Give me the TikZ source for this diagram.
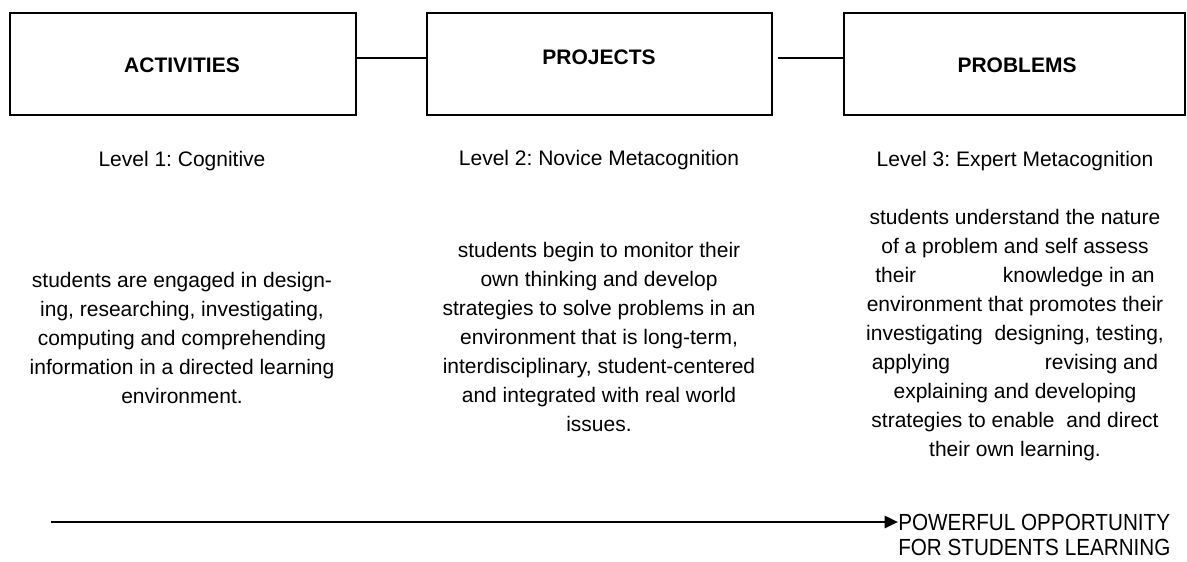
\documentclass[tikz,border=0pt]{standalone}
\usepackage{fontspec}
\setmainfont{Liberation Sans}
\usetikzlibrary{arrows.meta}
\frenchspacing

\begin{document}
\begin{tikzpicture}[x=0.75pt,y=0.75pt,yscale=-1,
    box/.style={draw, line width=0.8pt, minimum height=76.5pt, inner sep=0pt},
    title/.style={font=\bfseries\fontsize{15.75}{18}\selectfont, inner sep=0.75pt},
    level/.style={font=\fontsize{15.75}{18}\selectfont, inner sep=0.75pt},
    body/.style={font=\fontsize{15.75}{21.75}\selectfont, align=center, inner sep=0pt},
    goal/.style={font=\fontsize{17.5}{18.75}\selectfont, align=left, inner sep=0pt, xscale=0.886},
    link/.style={line width=0.8pt},
    progress/.style={line width=2pt, -{Triangle[length=10pt,width=9pt]}}]
        \path[use as bounding box] (0,0) rectangle (1187,561);

        %Shape: Rectangle [id:act]
        \node[box, minimum width=259.5pt] (act) at (183,64) {};
        %Shape: Rectangle [id:proj]
        \node[box, minimum width=258.75pt] (proj) at (599.5,64) {};
        %Shape: Rectangle [id:prob]
        \node[box, minimum width=255.75pt] (prob) at (1014.5,64) {};

        %Straight Lines [id:links]
        \coordinate (linky) at (0,58);
        \draw[link] (act.east |- linky) -- (proj.west |- linky);
        \draw[link, shorten <=3.75pt] (proj.east |- linky) -- (prob.west |- linky);

        % Text Node
        \node[title] (actname) at (182,65) {ACTIVITIES};
        % Text Node
        \node[title] (projname) at (599,57) {PROJECTS};
        % Text Node
        \node[title] (probname) at (1017,65) {PROBLEMS};

        % Text Node
        \node[level] (lvl1) at (182,161) {Level 1: Cognitive};
        % Text Node
        \node[level] (lvl2) at (599,160) {Level 2: Novice Metacognition};
        % Text Node
        \node[level] (lvl3) at (1015,161) {Level 3: Expert Metacognition};

        % Text Node
        \node[body] (desc1) at (182,338) {students are engaged in design-\\ing, researching, investigating,\\computing and comprehending\\information in a directed learning\\environment.};
        % Text Node
        \node[body] (desc2) at (599,337) {students begin to monitor their\\own thinking and develop\\strategies to solve problems in an\\environment that is long-term,\\interdisciplinary, student-centered\\and integrated with real world\\issues.};
        % Text Node
        \node[body] (desc3) at (1015,335) {students understand the nature\\of a problem and self assess\\their\hspace{65pt}knowledge in an\\environment that promotes their\\investigating\ \ designing, testing,\\applying\hspace{71pt}revising and\\explaining and developing\\strategies to enable\ \ and direct\\their own learning.};

        %Straight Lines [id:progress]
        \coordinate (start) at (51,522);
        \node[goal, anchor=north west] (goal) at (898,514) {POWERFUL OPPORTUNITY\\FOR STUDENTS LEARNING};
        \draw[progress] (start) -- (start -| goal.west);

\end{tikzpicture}
\end{document}
